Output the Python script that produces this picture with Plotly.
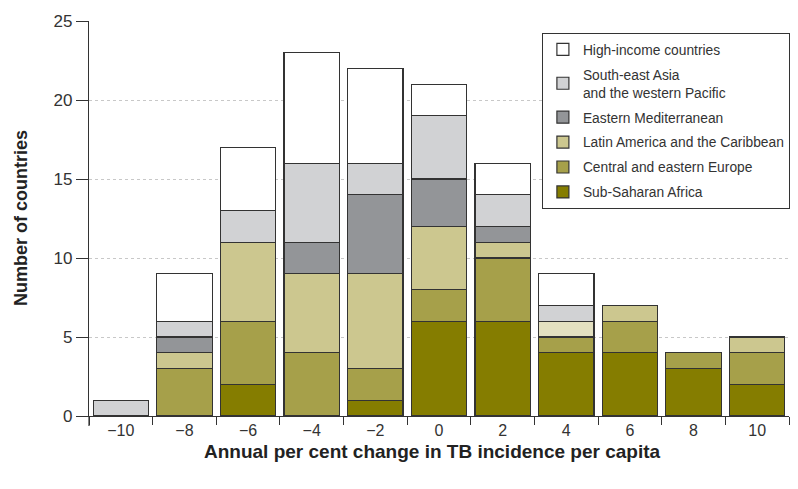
import plotly.graph_objects as go

categories = [-10, -8, -6, -4, -2, 0, 2, 4, 6, 8, 10]
tick_labels = ["\u221210", "\u22128", "\u22126", "\u22124", "\u22122", "0", "2", "4", "6", "8", "10"]

sub_saharan = [0, 0, 2, 0, 1, 6, 6, 4, 4, 3, 2]
central_eastern_europe = [0, 3, 4, 4, 2, 2, 4, 1, 2, 1, 2]
latin_america = [0, 1, 5, 5, 6, 4, 1, 1, 1, 0, 1]
eastern_med = [0, 1, 0, 2, 5, 3, 1, 0, 0, 0, 0]
se_asia = [1, 1, 2, 5, 2, 4, 2, 1, 0, 0, 0]
high_income = [0, 3, 4, 7, 6, 2, 2, 2, 0, 0, 0]

series = [
    ("Sub-Saharan Africa", sub_saharan, "#857d00"),
    ("Central and eastern Europe", central_eastern_europe, "#a6a04a"),
    ("Latin America and the Caribbean", latin_america,
     ["#ccc78f"] * 7 + ["#e3e0c0"] + ["#ccc78f"] * 3),
    ("Eastern Mediterranean", eastern_med, "#939598"),
    ("South-east Asia<br>and the western Pacific", se_asia, "#d1d2d4"),
    ("High-income countries", high_income, "#ffffff"),
]

FONT = "Liberation Sans, Arial, sans-serif"

fig = go.Figure()
n = len(series)
for i, (name, vals, col) in enumerate(series):
    fig.add_trace(go.Bar(
        x=categories, y=vals, name=name, width=1.74,
        legendgroup=f"g{i}", legendrank=n - i,
        marker=dict(color=col, line=dict(color="#333333", width=1.2)),
    ))

fig.update_layout(
    barmode="stack",
    width=790, height=481,
    margin=dict(l=81, r=9, t=13, b=73, autoexpand=False),
    plot_bgcolor="white", paper_bgcolor="white",
    font=dict(family=FONT, size=16, color="#333333"),
    showlegend=True,
    legend=dict(
        x=0.647, y=0.970, xanchor="left", yanchor="top",
        bordercolor="#333333", borderwidth=1, bgcolor="white",
        font=dict(size=13.8, color="#333333"),
        traceorder="grouped", tracegroupgap=4,
    ),
    xaxis=dict(
        range=[-11, 11], tickvals=categories, ticktext=tick_labels,
        ticks="", showgrid=False, zeroline=False, automargin=False,
        showline=True, linecolor="#333333", linewidth=1.2,
        tickfont=dict(size=16, color="#333333"),
        minor=dict(tick0=-11, dtick=2, ticks="outside", ticklen=8,
                   tickcolor="#333333", tickwidth=1.2, showgrid=False),
    ),
    yaxis=dict(
        range=[0, 25], tickvals=[0, 5, 10, 15, 20, 25], automargin=False,
        ticks="outside", ticklen=12, tickcolor="#333333", tickwidth=1.2,
        showline=True, linecolor="#333333", linewidth=1.2,
        showgrid=True, gridcolor="#c8c8c8", griddash="3px,3px", gridwidth=1,
        zeroline=False,
        tickfont=dict(size=17, color="#333333"),
    ),
    annotations=[
        dict(text="<b>Annual per cent change in TB incidence per capita</b>",
             xref="paper", yref="paper", x=(424 - 81) / 700, y=-(443 - 408) / 395,
             xanchor="center", yanchor="middle", showarrow=False,
             font=dict(size=19, color="#222222")),
        dict(text="<b>Number of countries</b>", textangle=-90,
             xref="paper", yref="paper", x=-(81 - 13) / 700, y=(408 - 210) / 395,
             xanchor="center", yanchor="middle", showarrow=False,
             font=dict(size=18, color="#222222")),
    ],
)

fig.add_shape(type="line", xref="paper", yref="paper", x0=0, x1=0, y0=0, y1=-0.025,
              line=dict(color="#333333", width=1.2))

fig.write_html("out.html")
